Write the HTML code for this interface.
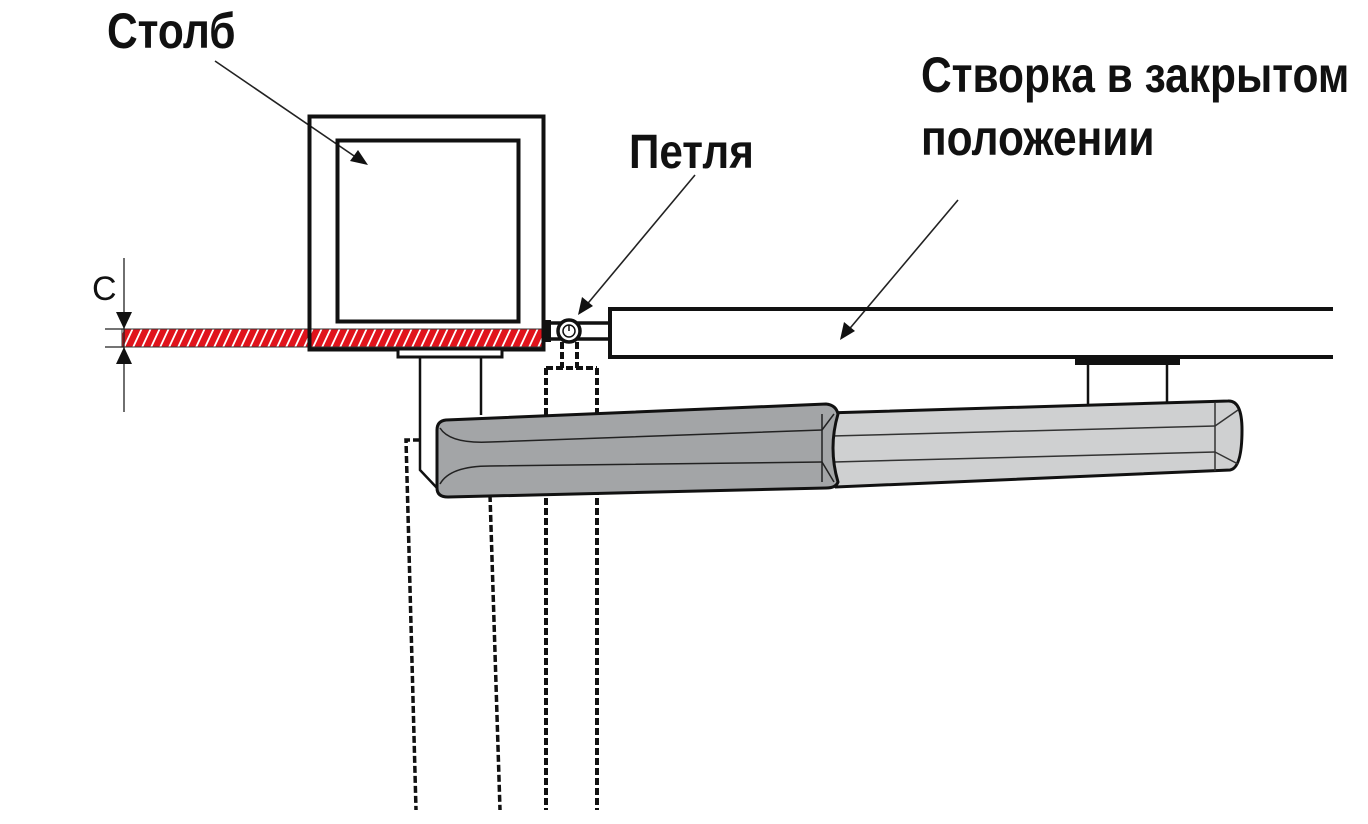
<!DOCTYPE html>
<html><head><meta charset="utf-8"><style>
html,body{margin:0;padding:0;background:#fff;}
svg{display:block;}
text{font-family:"Liberation Sans",sans-serif;font-weight:bold;fill:#111;}
</style></head><body>
<svg width="1368" height="824" viewBox="0 0 1368 824" xmlns="http://www.w3.org/2000/svg">
<defs>
<pattern id="hatch" patternUnits="userSpaceOnUse" width="9" height="18" patternTransform="skewX(-25)">
<rect width="9" height="18" fill="#e0141c"/>
<rect x="6" width="2" height="18" fill="#fff"/>
</pattern>
</defs>

<!-- labels -->
<g transform="translate(107,48) scale(0.85,1)"><text x="0" y="0" font-size="50">Столб</text></g>
<g transform="translate(629,168) scale(0.88,1)"><text x="0" y="0" font-size="48">Петля</text></g>
<g transform="translate(921,92) scale(0.85,1)"><text x="0" y="0" font-size="50">Створка в закрытом</text></g>
<g transform="translate(921,155) scale(0.85,1)"><text x="0" y="0" font-size="50">положении</text></g>
<text x="92" y="300" font-size="34" style="font-weight:normal">C</text>

<!-- leaders -->
<g stroke="#222" stroke-width="1.6" fill="none">
<line x1="215" y1="61" x2="360" y2="160"/>
<line x1="695" y1="175" x2="584" y2="308"/>
<line x1="958" y1="200" x2="846" y2="333"/>
</g>
<g fill="#111">
<polygon points="368,165 350,161 358,150"/>
<polygon points="578,315 582,297 593,306"/>
<polygon points="840,340 844,322 855,331"/>
</g>

<!-- hatched band -->
<rect x="122" y="329" width="421" height="18" fill="url(#hatch)" stroke="#333" stroke-width="1"/>

<!-- dimension C -->
<g stroke="#222" stroke-width="1.3">
<line x1="124" y1="258" x2="124" y2="412"/>
<line x1="105" y1="329" x2="124" y2="329"/>
<line x1="105" y1="347" x2="124" y2="347"/>
</g>
<polygon points="124,329 116,312 132,312" fill="#111"/>
<polygon points="124,347 116,364 132,364" fill="#111"/>

<!-- post -->
<rect x="309.5" y="116.5" width="234" height="233" fill="none" stroke="#111" stroke-width="4"/>
<rect x="337.5" y="140.5" width="181" height="181" fill="none" stroke="#111" stroke-width="4"/>
<rect x="398" y="349" width="104" height="8" fill="#fff" stroke="#111" stroke-width="3"/>
<g stroke="#111" stroke-width="2.5" fill="none">
<polyline points="420,358 420,470 437,488"/>
<line x1="481" y1="358" x2="481" y2="415"/>
</g>

<!-- hinge -->
<rect x="543" y="320" width="8" height="22" fill="#111"/>
<g stroke="#111" stroke-width="3.5" fill="none">
<line x1="548" y1="323" x2="610" y2="323"/>
<line x1="548" y1="339" x2="610" y2="339"/>
</g>
<circle cx="569" cy="331" r="11" fill="#fff" stroke="#111" stroke-width="3.5"/>
<circle cx="569" cy="331" r="6" fill="#fff" stroke="#111" stroke-width="1.5"/>
<line x1="569" y1="325" x2="569" y2="331" stroke="#111" stroke-width="1.5"/>

<!-- gate -->
<polyline points="1333,309 610,309 610,357 1333,357" fill="none" stroke="#111" stroke-width="4"/>
<rect x="1075" y="357" width="105" height="8" fill="#111"/>
<g stroke="#111" stroke-width="2.5">
<line x1="1088" y1="362" x2="1088" y2="406"/>
<line x1="1167" y1="362" x2="1167" y2="402"/>
</g>

<!-- dashed -->
<g stroke="#111" fill="none" stroke-dasharray="7,3">
<path d="M562,342 V368 M577,342 V368 M546,368 H597" stroke-width="4"/>
<line x1="546" y1="368" x2="546" y2="810" stroke-width="4"/>
<line x1="597" y1="368" x2="597" y2="810" stroke-width="4"/>
<path d="M420,440 H406 L416,810" stroke-width="3.5"/>
<line x1="490" y1="495" x2="500" y2="810" stroke-width="3.5"/>
</g>

<!-- actuator light rod -->
<path d="M826,413 L1228,401 Q1242,400 1242,430 Q1242,468 1230,470 L836,487 Q822,450 826,413 Z" fill="#cfd0d1" stroke="#111" stroke-width="3"/>
<g stroke="#333" stroke-width="1.5" fill="none">
<line x1="832" y1="436" x2="1215" y2="426"/>
<line x1="834" y1="462" x2="1215" y2="452"/>
<line x1="1215" y1="403" x2="1215" y2="471"/>
<line x1="1215" y1="426" x2="1238" y2="410"/>
<line x1="1215" y1="452" x2="1238" y2="464"/>
</g>
<!-- actuator dark body -->
<path d="M446,420 L826,404 Q836,405 838,414 Q828,448 838,482 Q836,488 826,488 L448,497 Q437,497 437,488 L437,430 Q437,421 446,420 Z" fill="#a3a5a7" stroke="#111" stroke-width="3"/>
<g stroke="#222" stroke-width="1.5" fill="none">
<path d="M440,428 Q450,444 490,442 L822,430"/>
<path d="M440,484 Q450,466 490,466 L822,462"/>
<line x1="822" y1="414" x2="822" y2="482"/>
<line x1="822" y1="430" x2="834" y2="414"/>
<line x1="822" y1="462" x2="834" y2="482"/>
</g>
</svg>
</body></html>
